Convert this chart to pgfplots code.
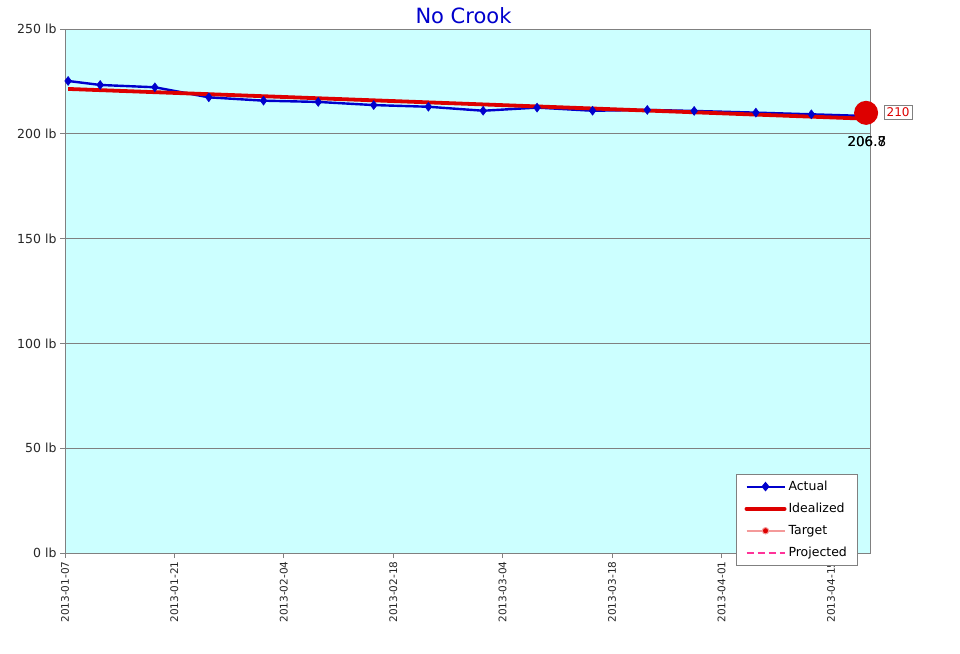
\documentclass[border=0pt]{standalone}
\usepackage{pgfplots}
\pgfplotsset{compat=1.18}
\usepackage{fontspec}
\setmainfont{DejaVu Sans}
\definecolor{bgcyan}{HTML}{CCFFFF}
\definecolor{actblue}{HTML}{0000CC}
\definecolor{idred}{HTML}{DD0000}
\definecolor{tgtpink}{HTML}{F49A9A}
\definecolor{projpink}{HTML}{FF3399}
\definecolor{gridgray}{HTML}{808080}
\begin{document}
\begin{tikzpicture}
\useasboundingbox (-65pt,-100pt) rectangle (895pt,553pt);
\begin{axis}[
  at={(0pt,0pt)}, anchor=south west,
  scale only axis, width=805pt, height=524pt,
  xmin=0, xmax=103, ymin=0, ymax=250,
  axis background/.style={fill=bgcyan},
  axis line style={gridgray, line width=0.8pt},
  clip=false,
  xtick={0,14,28,42,56,70,84,98},
  xticklabels={2013-01-07,2013-01-21,2013-02-04,2013-02-18,2013-03-04,2013-03-18,2013-04-01,2013-04-15},
  xticklabel style={rotate=90, anchor=east, font=\fontsize{10.5}{12}\selectfont, text=black!85},
  ytick={0,50,100,150,200,250},
  yticklabels={0 lb,50 lb,100 lb,150 lb,200 lb,250 lb},
  yticklabel style={font=\fontsize{12.5}{14}\selectfont, text=black!85},
  tick align=outside, tick pos=left,
  major tick length=5pt,
  tick style={gridgray, line width=0.8pt},
  ymajorgrids, major grid style={gridgray, line width=0.8pt},
  title={No Crook},
  title style={font=\fontsize{21}{24}\selectfont, text=actblue, at={(0.495,1)}, anchor=south, yshift=-4pt},
  legend style={at={(0.984,0.151)}, anchor=north east, draw=gridgray, fill=white,
    font=\fontsize{12.5}{14}\selectfont, row sep=7.2pt, inner xsep=8pt, inner ysep=5pt},
  legend cell align=left,
]
\addplot[actblue, line width=2.4pt, mark=diamond*, mark size=4.5pt, mark options={fill=actblue, line width=0.5pt},
  legend image code/.code={\draw[draw=actblue, line width=2pt] (0pt,0pt) -- (38pt,0pt);
    \fill[fill=actblue] (19pt,-3pt) -- (21.5pt,0pt) -- (19pt,3pt) -- (16.5pt,0pt) -- cycle;}] coordinates {
(0.4,225.2) (4.5,223.3) (11.5,222.2) (18.4,217.4) (25.4,215.8) (32.4,215.2)
(39.5,213.7) (46.5,212.9) (53.5,211.0) (60.4,212.5) (67.5,211.0) (74.5,211.4)
(80.5,210.9) (88.4,210.1) (95.5,209.3) (101.5,208.6)
};
\addlegendentry{Actual}
\addplot[idred, line width=3.8pt, no marks,
  legend image code/.code={\draw[draw=idred, line width=4pt, line cap=round] (0pt,0pt) -- (38pt,0pt);}] coordinates {(0.4,221.4) (102.5,207.2)};
\addlegendentry{Idealized}
\addplot[tgtpink, line width=1pt, mark=*, mark size=11.5pt, mark options={fill=idred, draw=idred},
  legend image code/.code={\draw[draw=tgtpink, line width=1.6pt] (0pt,0pt) -- (38pt,0pt);
    \fill[fill=idred] (19pt,0pt) circle (3.2pt);}] coordinates {(102.5,210)};
\addlegendentry{Target}
\addlegendimage{legend image code/.code={\draw[draw=projpink, solid, line width=1.6pt, dash pattern=on 7pt off 4pt] (0pt,0pt) -- (38pt,0pt);}}
\addlegendentry{Projected}
\node[draw=gridgray, fill=white, text=idred, font=\fontsize{12}{13}\selectfont, inner sep=2.5pt] at (axis cs:106.6,210.5) {210};
\node[font=\fontsize{13.5}{15}\selectfont] at (axis cs:102.6,196.3) {206.8};
\node[font=\fontsize{13.5}{15}\selectfont] at (axis cs:102.6,196.3) {206.7};
\end{axis}
\end{tikzpicture}
\end{document}
